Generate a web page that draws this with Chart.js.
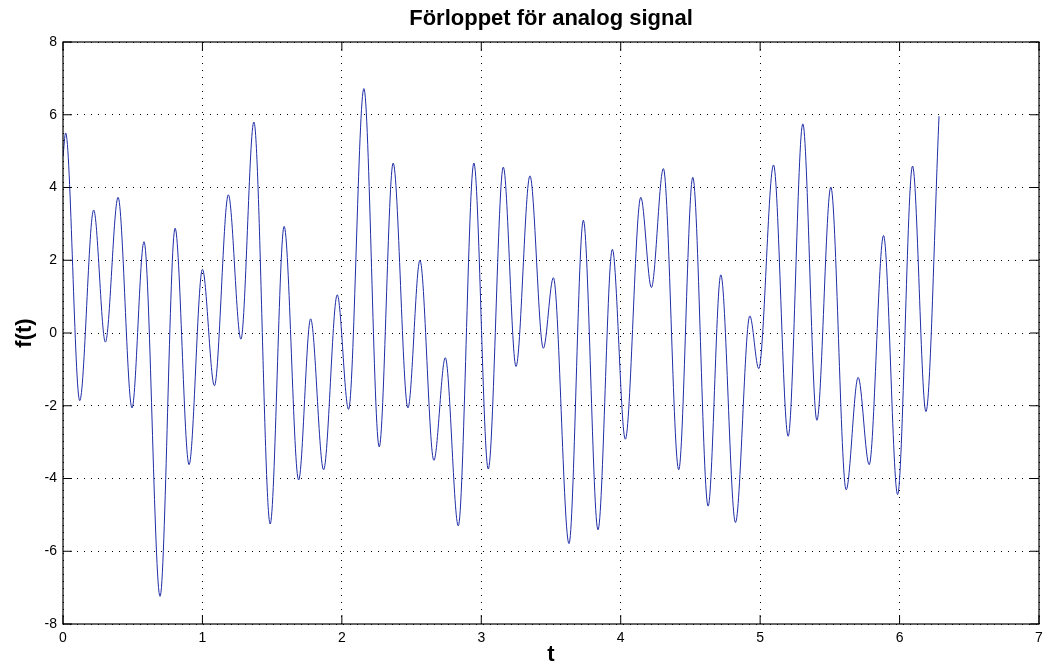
<!DOCTYPE html>
<html>
<head>
<meta charset="utf-8">
<script src="https://cdn.jsdelivr.net/npm/chart.js@4"></script>
<style>
html, body { margin: 0; padding: 0; background: #fff; }
#wrap { width: 1051px; height: 672px; }
</style>
</head>
<body>
<div id="wrap"><canvas id="c"></canvas></div>
<script>
// turning points of the signal
const tVals = [0, 0.019, 0.12, 0.22, 0.304, 0.395, 0.495, 0.581, 0.696, 0.804, 0.904,
    1.0, 1.086, 1.186, 1.276, 1.369, 1.486, 1.586, 1.69, 1.776, 1.869, 1.967,
    2.048, 2.158, 2.268, 2.368, 2.474, 2.56, 2.66, 2.742, 2.835, 2.947,
    3.05, 3.158, 3.249, 3.349, 3.445, 3.517, 3.629, 3.732, 3.837, 3.94,
    4.033, 4.144, 4.22, 4.306, 4.416, 4.517, 4.627, 4.718, 4.823, 4.926, 4.99,
    5.096, 5.201, 5.306, 5.407, 5.507, 5.617, 5.703, 5.782, 5.885, 5.986,
    6.093, 6.189, 6.283];
const fVals = [4.85, 5.5, -1.86, 3.38, -0.25, 3.73, -2.06, 2.51, -7.24, 2.88, -3.62,
    1.75, -1.45, 3.80, -0.17, 5.80, -5.25, 2.93, -4.04, 0.39, -3.76, 1.05,
    -2.1, 6.72, -3.13, 4.67, -2.06, 2.0, -3.5, -0.68, -5.30, 4.67,
    -3.74, 4.56, -0.92, 4.32, -0.42, 1.52, -5.79, 3.10, -5.41, 2.30,
    -2.92, 3.73, 1.25, 4.52, -3.76, 4.28, -4.76, 1.60, -5.21, 0.47, -0.98,
    4.62, -2.84, 5.75, -2.40, 4.01, -4.31, -1.22, -3.62, 2.68, -4.44,
    4.59, -2.16, 5.96];
const xTicks = [0, 1, 2, 3, 4, 5, 6, 7];
const yTicks = [-8, -6, -4, -2, 0, 2, 4, 6, 8];

const titleText = 'Förloppet för analog signal';
const FONT = '"Liberation Sans", Arial, Helvetica, sans-serif';

// box, inward ticks on all four sides and the title (matlab look)
const frame = {
    id: 'frame',
    afterDraw(chart) {
        const { ctx, chartArea: a, scales: { x, y } } = chart;
        const tl = 9;
        ctx.save();
        ctx.strokeStyle = '#000';
        ctx.lineWidth = 1.2;
        ctx.strokeRect(a.left, a.top, a.right - a.left, a.bottom - a.top);
        ctx.lineWidth = 1;
        ctx.beginPath();
        xTicks.forEach(v => {
            const px = x.getPixelForValue(v);
            ctx.moveTo(px, a.bottom); ctx.lineTo(px, a.bottom - tl);
            ctx.moveTo(px, a.top); ctx.lineTo(px, a.top + tl);
        });
        yTicks.forEach(v => {
            const py = y.getPixelForValue(v);
            ctx.moveTo(a.left, py); ctx.lineTo(a.left + tl, py);
            ctx.moveTo(a.right, py); ctx.lineTo(a.right - tl, py);
        });
        ctx.stroke();
        ctx.fillStyle = '#000';
        ctx.font = 'bold 22px ' + FONT;
        ctx.textAlign = 'center';
        ctx.textBaseline = 'middle';
        ctx.fillText(titleText, (a.left + a.right) / 2, 19);
        ctx.restore();
    }
};

const points = tVals.map((t, i) => ({ x: t, y: fVals[i] }));

new Chart(document.getElementById('c').getContext('2d'), {
    type: 'line',
    data: {
        datasets: [{
            data: points,
            borderColor: '#1f2da6',
            borderWidth: 1,
            pointRadius: 0,
            fill: false,
            cubicInterpolationMode: 'monotone'
        }]
    },
    options: {
        responsive: true,
        maintainAspectRatio: false,
        animation: false,
        layout: { padding: { top: 42, right: 12, left: 0, bottom: 0 } },
        plugins: { legend: { display: false }, tooltip: { enabled: false } },
        scales: {
            x: {
                type: 'linear',
                min: 0, max: 7,
                afterBuildTicks: s => { s.ticks = xTicks.map(v => ({ value: v })); },
                afterFit: s => { s.height = 48; },
                grid: { color: '#000', lineWidth: 1, drawTicks: false },
                border: { display: false, dash: [1, 6] },
                ticks: { color: '#000', padding: 6, maxRotation: 0, font: { family: FONT, size: 14 } },
                title: { display: true, text: 't', color: '#000', padding: { top: 0, bottom: 4 },
                         font: { family: FONT, size: 22, weight: 'bold' } }
            },
            y: {
                type: 'linear',
                min: -8, max: 8,
                afterBuildTicks: s => { s.ticks = yTicks.map(v => ({ value: v })); },
                afterFit: s => { s.width = 63; },
                grid: { color: '#000', lineWidth: 1, drawTicks: false },
                border: { display: false, dash: [1, 6] },
                ticks: { color: '#000', padding: 6, font: { family: FONT, size: 14 } },
                title: { display: true, text: 'f(t)', color: '#000', padding: { top: 12, bottom: 0 },
                         font: { family: FONT, size: 22, weight: 'bold' } }
            }
        }
    },
    plugins: [frame]
});
</script>
</body>
</html>
